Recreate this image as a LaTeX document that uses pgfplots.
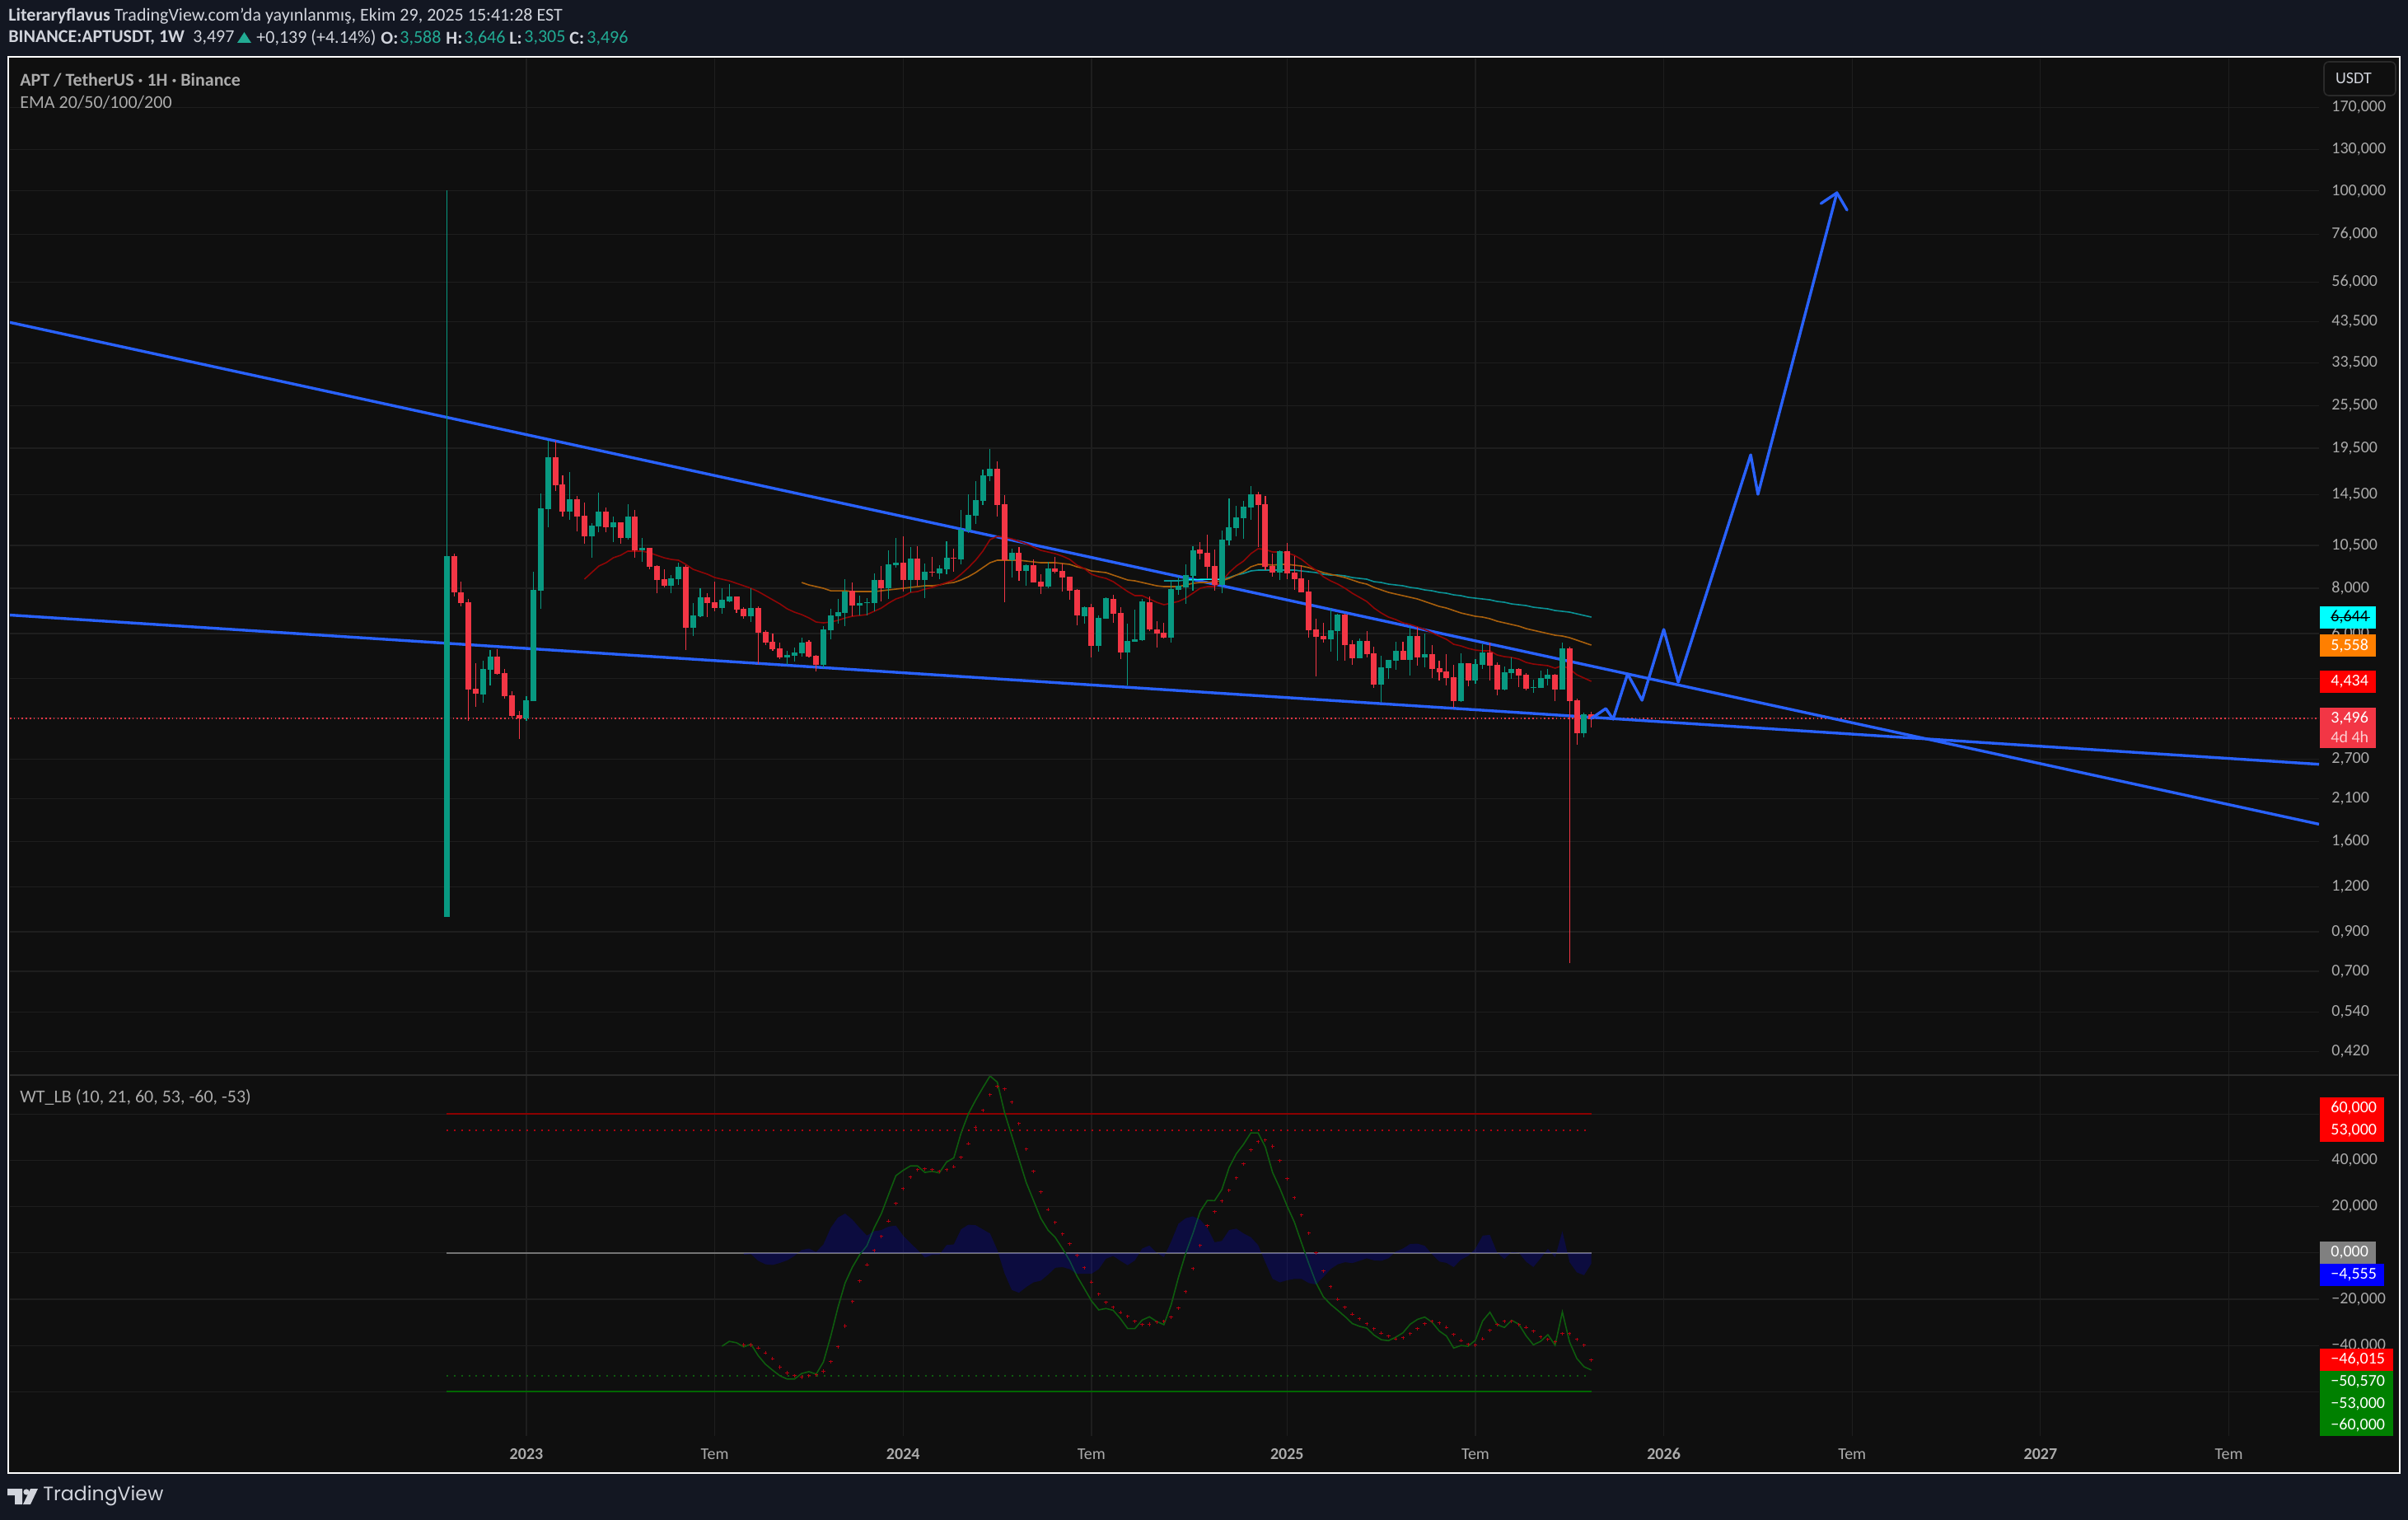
\documentclass[border=0pt]{standalone}
\usepackage{fontspec}
\setmainfont{Carlito}
\newfontfamily\logofont{Poppins}
\usepackage{pgfplots}
\usepackage{pgfplotstable}
\pgfplotsset{compat=1.18}
\definecolor{page}{HTML}{131722}
\definecolor{pane}{HTML}{0F0F0F}
\definecolor{gridc}{HTML}{1E1E1E}
\definecolor{sepc}{HTML}{2A2A2A}
\definecolor{upc}{HTML}{089981}
\definecolor{dnc}{HTML}{F23645}
\definecolor{bluel}{HTML}{2962FF}
\definecolor{emaR}{HTML}{8F0606}
\definecolor{emaO}{HTML}{A85F0C}
\definecolor{emaT}{HTML}{0A9396}
\definecolor{tickc}{HTML}{ABABAB}
\definecolor{headc}{HTML}{D1D4DC}
\definecolor{tealt}{HTML}{22AB94}
\definecolor{wtgreen}{HTML}{0E5C0E}
\definecolor{wtred}{HTML}{B00010}
\definecolor{pcyan}{HTML}{00FFFF}
\definecolor{porange}{HTML}{FF7F00}
\definecolor{pred}{HTML}{FF0000}
\definecolor{pblue}{HTML}{0000FF}
\definecolor{pgreen}{HTML}{008000}
\definecolor{pgray}{HTML}{808080}
% Price readings below are positions on the log scale
% (scale position s); pp() turns them into prices: 3.496 sits at s=872, 190.9 per e-fold.
\pgfmathdeclarefunction{pp}{1}{\pgfmathparse{3.496*exp((872-#1)/190.9)}}
\pgfplotstableread{
i hi top bot lo
0 231 675 1113 1113
5 802 812 843 853
6 789 797 813 832
11 845 850 872 875
12 694 716 851 851
13 599 617 717 739
14 535 555 618 640
17 573 606 621 631
20 635 638 651 677
21 598 621 639 646
23 627 634 640 658
25 612 627 653 655
27 653 665 668 682
31 698 702 711 720
32 683 688 703 710
34 732 747 762 772
35 714 725 748 749
38 714 728 738 745
39 709 724 730 731
42 714 738 748 755
47 790 795 798 807
48 786 792 796 803
49 774 780 793 797
52 760 764 807 811
53 739 747 765 776
54 727 743 748 757
55 703 718 744 760
57 723 732 735 747
58 726 731 732 747
59 696 704 732 742
61 668 685 714 727
62 653 683 686 689
64 664 678 704 719
66 684 694 704 726
68 686 690 696 703
69 657 677 691 697
71 619 643 679 685
72 600 625 644 647
73 584 607 626 636
74 570 577 608 613
75 545 569 578 584
78 666 671 680 701
80 685 686 693 711
83 682 690 712 714
88 736 737 748 757
90 747 750 784 791
91 725 726 751 751
94 757 778 792 832
95 740 776 779 779
96 727 730 777 778
100 706 715 774 780
101 700 711 716 722
102 685 698 713 733
103 663 668 699 717
107 644 655 710 720
108 605 640 656 662
109 614 628 641 651
110 608 615 629 654
111 590 600 616 631
115 668 669 695 704
122 738 765 776 791
123 745 746 766 802
126 775 778 799 799
129 796 810 831 852
130 801 801 811 824
131 779 790 802 813
133 760 772 801 820
135 769 794 798 810
140 793 805 851 852
142 800 806 826 830
143 782 792 807 812
146 809 816 837 838
147 798 812 817 824
150 825 834 835 841
151 814 823 835 835
152 812 819 824 832
154 780 787 837 837
157 865 867 890 895
}\upT
\pgfplotstableread{
i hi top bot lo
1 672 675 719 724
2 706 719 732 736
3 727 731 837 875
4 805 836 842 858
7 788 797 818 819
8 812 817 845 848
9 839 844 869 871
10 863 868 872 897
15 535 555 589 596
16 577 588 621 627
18 602 606 627 645
19 610 626 651 660
22 616 621 640 646
24 634 634 653 660
26 619 627 668 677
28 665 665 688 691
29 686 687 704 720
30 691 703 711 713
33 686 688 762 789
36 720 725 732 749
37 706 731 738 742
40 724 724 740 744
41 737 739 748 751
43 736 738 768 806
44 765 767 780 783
45 769 779 788 790
46 780 787 798 800
50 777 779 797 798
51 795 796 807 815
56 707 717 735 748
60 687 704 714 730
63 651 683 704 718
65 663 678 704 711
67 676 694 695 700
70 666 677 678 694
76 560 569 613 627
77 601 612 680 731
79 664 671 693 705
81 679 686 707 707
82 697 706 712 721
84 676 690 694 696
85 684 693 701 718
86 700 700 717 728
87 715 716 747 759
89 733 737 784 798
92 722 727 745 756
93 737 744 792 800
97 724 731 764 766
98 754 764 769 786
99 756 768 774 775
104 658 667 672 679
105 649 671 688 702
106 667 687 710 717
112 597 600 613 664
113 602 612 688 692
114 672 687 695 700
116 659 669 696 703
117 675 695 703 716
118 686 702 719 719
119 704 718 765 774
120 751 764 773 821
121 756 772 776 780
124 745 746 783 802
125 777 782 799 807
127 766 778 794 798
128 785 793 831 835
132 779 790 801 801
134 761 772 798 808
136 783 794 812 823
137 802 811 816 826
138 794 815 823 832
139 807 822 851 859
141 805 805 826 833
144 780 792 808 826
145 804 807 837 844
148 811 812 820 834
149 817 819 836 838
153 818 819 837 851
155 785 787 851 1169
156 848 850 890 904
158 864 867 873 883
}\dnT
\pgfplotstableread{
i s
19 703
20 695
21 687
22 683
23 677
24 674
25 669
26 669
27 669
28 671
29 674
30 677
31 679
32 680
33 685
34 691
35 694
36 697
37 701
38 703
39 705
40 708
41 711
42 714
43 718
44 723
45 728
46 733
47 739
48 743
49 746
50 750
51 755
52 756
53 755
54 753
55 750
56 748
57 747
58 746
59 742
60 738
61 732
62 727
63 724
64 719
65 718
66 715
67 713
68 710
69 707
70 704
71 697
72 689
73 680
74 669
75 655
76 651
77 652
78 654
79 657
80 660
81 664
82 668
83 670
84 672
85 675
86 679
87 686
88 690
89 697
90 700
91 702
92 706
93 712
94 718
95 723
96 723
97 727
98 731
99 734
100 732
101 730
102 726
103 720
104 714
105 712
106 712
107 706
108 695
109 687
110 681
111 672
112 666
113 667
114 670
115 670
116 671
117 674
118 679
119 686
120 692
121 700
122 705
123 709
124 714
125 720
126 725
127 730
128 738
129 744
130 749
131 752
132 756
133 758
134 761
135 764
136 768
137 772
138 776
139 782
140 784
141 787
142 789
143 790
144 790
145 795
146 797
147 798
148 800
149 804
150 806
151 807
152 808
153 811
154 808
155 812
156 819
157 823
158 827
}\emaA
\pgfplotstableread{
i s
49 707
50 710
51 712
52 714
53 717
54 717
55 717
56 718
57 718
58 718
59 718
60 717
61 716
62 715
63 714
64 713
65 712
66 711
67 711
68 710
69 708
70 707
71 704
72 700
73 695
74 689
75 683
76 680
77 680
78 680
79 680
80 681
81 682
82 683
83 683
84 683
85 684
86 685
87 688
88 690
89 693
90 694
91 695
92 698
93 701
94 704
95 705
96 707
97 709
98 711
99 712
100 712
101 712
102 710
103 708
104 707
105 707
106 706
107 705
108 702
109 698
110 694
111 688
112 685
113 685
114 686
115 685
116 685
117 686
118 687
119 689
120 692
121 695
122 697
123 699
124 701
125 704
126 707
127 709
128 713
129 716
130 719
131 721
132 723
133 725
134 727
135 730
136 733
137 736
138 738
139 741
140 744
141 746
142 748
143 749
144 751
145 754
146 756
147 758
148 760
149 763
150 765
151 767
152 769
153 771
154 772
155 774
156 777
157 780
158 783
}\emaB
\pgfplotstableread{
i s
99 705
100 705
101 705
102 704
103 704
104 703
105 703
106 703
107 703
108 701
109 698
110 696
111 693
112 692
113 692
114 692
115 692
116 692
117 692
118 693
119 694
120 695
121 697
122 698
123 698
124 699
125 701
126 702
127 703
128 706
129 707
130 709
131 710
132 711
133 713
134 714
135 716
136 717
137 719
138 720
139 722
140 723
141 725
142 726
143 727
144 728
145 730
146 731
147 733
148 734
149 735
150 737
151 738
152 739
153 741
154 742
155 743
156 745
157 747
158 749
}\emaC
\pgfplotstableread{
i s
102 703.5
107 703.5
}\emaD
\pgfplotstableread{
i s
-60.3 391.3
258.45 1000.4
}\lineU
\pgfplotstableread{
i s
-60.3 746.5
258.45 927.7
}\lineL
\pgfplotstableread{
i s
-60.3 872
258.45 872
}\lineP
\pgfplotstableread{
i s
158 872
160 860
161 873
163 818
165 850
168 764
170 828
180 552
181 600
191.9 234
}\proj
\pgfplotstableread{
i s
189.7 247
191.9 234
193.3 255
}\projH
\newcommand\fs{\fontsize{10}{12}\selectfont}
\newcommand\fh{\fontsize{11}{13}\selectfont}
\pgfplotsset{candle/.style 2 args={draw=none,mark=none,error bars/.cd,y dir=minus,y explicit,
  error mark=none,error bar style={draw=#1,line width=#2}}}
\begin{document}
\begin{tikzpicture}
\path[use as bounding box,fill=page] (0,0) rectangle (1461.5pt,-922.5pt);
\begin{scope}[x=.5pt,y=-.5pt]
\fill[pane] (10,69) rectangle (2913,1788);
\end{scope}
% ---------- price pane ----------
\begin{axis}[name=price,at={(6pt,-652.5pt)},anchor=south west,scale only axis,
  width=1401.5pt,height=617pt,
  xmin=-60.3,xmax=258.45,ymode=log,ymin=0.3619,ymax=232.2,
  axis line style={draw=none},tick style={draw=none},major tick length=0pt,
  xmajorgrids,ymajorgrids,grid style={gridc,line width=.6pt},
  xtick={11,37,63,89,116,142,168,194,220,246},xticklabels={},
  ytick={0.42,0.54,0.7,0.9,1.2,1.6,2.1,2.7,3.5,4.5,6,8,10.5,14.5,19.5,25.5,33.5,43.5,56,76,100,130,170},
  yticklabels={{0,420},{0,540},{0,700},{0,900},{1,200},{1,600},{2,100},{2,700},{},{},{6,000},{8,000},{10,500},{14,500},{19,500},{25,500},{33,500},{43,500},{56,000},{76,000},{100,000},{130,000},{170,000}},
  yticklabel pos=right,
  yticklabel style={anchor=west,inner sep=0pt,xshift=7.5pt,font=\fs,text=tickc},
  minor tick num=0,
  clip=true,
]
\addplot[dnc,line width=.6pt,dash pattern=on .8pt off 1.6pt] table[x=i,y expr=pp(\thisrow{s})]{\lineP};
\addplot[bluel,line width=1.7pt] table[x=i,y expr=pp(\thisrow{s})]{\lineU};
\addplot[bluel,line width=1.7pt] table[x=i,y expr=pp(\thisrow{s})]{\lineL};
\addplot[emaT,line width=.8pt] table[x=i,y expr=pp(\thisrow{s})]{\emaC};
\addplot[pcyan,line width=.8pt] table[x=i,y expr=pp(\thisrow{s})]{\emaD};
\addplot[emaO,line width=.8pt] table[x=i,y expr=pp(\thisrow{s})]{\emaB};
\addplot[emaR,line width=.8pt] table[x=i,y expr=pp(\thisrow{s})]{\emaA};
\addplot[candle={upc}{.55pt}]
  table[x=i,y expr=pp(\thisrow{hi}),y error minus expr=pp(\thisrow{hi})-pp(\thisrow{lo})]{\upT};
\addplot[candle={dnc}{.55pt}]
  table[x=i,y expr=pp(\thisrow{hi}),y error minus expr=pp(\thisrow{hi})-pp(\thisrow{lo})]{\dnT};
\addplot[candle={upc}{3.5pt}]
  table[x=i,y expr=pp(\thisrow{top}),y error minus expr=pp(\thisrow{top})-pp(\thisrow{bot})]{\upT};
\addplot[candle={dnc}{3.5pt}]
  table[x=i,y expr=pp(\thisrow{top}),y error minus expr=pp(\thisrow{top})-pp(\thisrow{bot})]{\dnT};
\addplot[bluel,line width=1.7pt,line join=round,line cap=round] table[x=i,y expr=pp(\thisrow{s})]{\proj};
\addplot[bluel,line width=1.7pt,line join=round,line cap=round] table[x=i,y expr=pp(\thisrow{s})]{\projH};
\end{axis}
% ---------- oscillator pane ----------
\begin{axis}[name=osc,at={(6pt,-871.5pt)},anchor=south west,scale only axis,
  width=1401.5pt,height=219pt,
  xmin=-60.3,xmax=258.45,ymin=-79.1,ymax=76.85,
  axis line style={draw=none},tick style={draw=none},major tick length=0pt,
  xmajorgrids,ymajorgrids,grid style={gridc,line width=.6pt},
  xtick={11,37,63,89,116,142,168,194,220,246},
  xticklabels={\textbf{2023},Tem,\textbf{2024},Tem,\textbf{2025},Tem,\textbf{2026},Tem,\textbf{2027},Tem},
  xticklabel style={font=\fs,text=tickc,inner sep=0pt,anchor=center,yshift=-11pt},
  ytick={-60,-40,-20,0,20,40,60},
  yticklabels={{},{−40,000},{−20,000},{},{20,000},{40,000},{}},
  yticklabel pos=right,
  yticklabel style={anchor=west,inner sep=0pt,xshift=7.5pt,font=\fs,text=tickc},
  clip=true,
]
\addplot[red!55!black,line width=1pt] coordinates {(0,60) (158,60)};
\addplot[wtred,line width=.8pt,dash pattern=on 1pt off 3.397pt] coordinates {(0,53) (158,53)};
\addplot[wtgreen,line width=.8pt,dash pattern=on 1pt off 3.397pt] coordinates {(0,-53) (158,-53)};
\addplot[green!40!black,line width=1pt] coordinates {(0,-60) (158,-60)};
\addplot[white!42!pane,line width=1.1pt] coordinates {(0,0) (158,0)};
\addplot[wtgreen,line width=.8pt] table {
38 -40.3
39 -38.2
40 -38.8
41 -40.6
42 -39.4
43 -44.4
44 -48.1
45 -50.7
46 -53.1
47 -54.5
48 -54.5
49 -52.1
50 -51.3
51 -52.4
52 -47.1
53 -36.1
54 -23.6
55 -12.9
56 -6.1
57 -0.8
58 3.1
59 10.8
60 17.0
61 25.3
62 33.4
63 35.7
64 37.6
65 37.6
66 34.8
67 35.3
68 34.6
69 39.3
70 41.1
71 51.8
72 60.1
73 66.0
74 71.4
75 76.5
76 73.8
77 60.7
78 50.6
79 40.5
80 30.4
81 22.7
82 15.0
83 9.9
84 6.7
85 1.9
86 -3.4
87 -10.0
88 -15.3
89 -20.7
90 -24.6
91 -24.0
92 -24.8
93 -28.4
94 -32.7
95 -32.7
96 -29.0
97 -27.6
98 -29.6
99 -31.0
100 -22.4
101 -10.6
102 -0.2
103 8.4
104 17.9
105 22.7
106 22.6
107 27.4
108 36.9
109 42.9
110 47.0
111 51.9
112 51.9
113 45.8
114 34.8
115 28.0
116 20.3
117 13.4
118 4.3
119 -4.6
120 -12.9
121 -18.9
122 -22.2
123 -24.8
124 -27.5
125 -30.5
126 -31.7
127 -32.5
128 -35.5
129 -37.5
130 -37.9
131 -36.4
132 -34.5
133 -30.8
134 -28.7
135 -27.7
136 -29.9
137 -33.7
138 -35.9
139 -41.1
140 -40.0
141 -40.3
142 -37.7
143 -29.4
144 -25.6
145 -31.0
146 -32.2
147 -29.1
148 -30.8
149 -35.8
150 -39.7
151 -38.2
152 -35.3
153 -39.9
154 -25.5
155 -38.5
156 -45.6
157 -49.2
158 -50.6
};
\addplot[only marks,mark=+,mark size=1.1pt,mark options={wtred,line width=.5pt}] table {
41 -39.7
42 -39.7
43 -41.1
44 -43.2
45 -45.7
46 -49.3
47 -51.8
48 -53.1
49 -53.7
50 -53.1
51 -52.7
52 -51.1
53 -47.0
54 -40.6
55 -31.5
56 -21.0
57 -12.1
58 -5.1
59 1.1
60 7.1
61 13.8
62 21.4
63 27.8
64 32.8
65 36.0
66 36.3
67 36.0
68 35.2
69 36.0
70 37.3
71 41.3
72 47.3
73 54.2
74 61.6
75 68.4
76 71.9
77 70.9
78 65.2
79 55.9
80 44.9
81 35.3
82 26.4
83 18.8
84 13.2
85 8.2
86 3.9
87 -1.1
88 -6.4
89 -12.6
90 -17.8
91 -21.4
92 -23.5
93 -25.7
94 -27.4
95 -29.6
96 -31.0
97 -30.8
98 -29.9
99 -29.6
100 -27.8
101 -23.9
102 -16.7
103 -6.8
104 3.2
105 11.8
106 17.8
107 22.4
108 27.1
109 32.4
110 38.5
111 44.5
112 48.1
113 48.8
114 46.0
115 39.9
116 32.1
117 23.9
118 16.4
119 8.6
120 0
121 -7.8
122 -14.6
123 -20.0
124 -23.5
125 -26.4
126 -28.5
127 -30.6
128 -32.8
129 -34.6
130 -36.0
131 -37.1
132 -36.7
133 -34.9
134 -32.8
135 -30.6
136 -29.6
137 -30.3
138 -32.1
139 -35.3
140 -37.8
141 -39.5
142 -39.9
143 -37.1
144 -33.5
145 -31.0
146 -29.6
147 -29.6
148 -31.0
149 -32.1
150 -33.8
151 -36.3
152 -37.4
153 -38.5
154 -34.9
155 -34.9
156 -37.4
157 -39.9
158 -46.3
};
\addplot[fill=pblue,fill opacity=.2,draw=none] table {
41 0
41 -0.8
42 -0.5
43 -3.4
44 -4.9
45 -5.2
46 -4.3
47 -3.2
48 -1.3
49 1.3
50 1.9
51 0.4
52 3.7
53 10.8
54 15.3
55 17.0
56 14.4
57 10.8
58 7.5
59 9.4
60 9.9
61 11.4
62 11.8
63 7.5
64 4.3
65 1.3
66 -2.0
67 -0.8
68 -0.8
69 3.4
70 3.7
71 10.2
72 12.2
73 12.0
74 10.2
75 8.4
76 1.3
77 -8.8
78 -16.0
79 -17.2
80 -14.7
81 -12.7
82 -12.0
83 -9.4
84 -6.4
85 -6.1
86 -7.0
87 -9.0
88 -9.0
89 -9.0
90 -7.0
91 -2.5
92 -1.3
93 -3.4
94 -5.3
95 -3.2
96 1.9
97 3.2
98 0.1
99 -1.8
100 4.9
101 12.6
102 15.0
103 15.8
104 14.4
105 10.8
106 4.6
107 5.2
108 9.9
109 10.5
110 8.4
111 6.8
112 3.4
113 -4.0
114 -11.2
115 -12.7
116 -11.8
117 -11.2
118 -11.2
119 -13.0
120 -13.6
121 -10.4
122 -7.0
123 -4.9
124 -4.0
125 -4.4
126 -3.4
127 -2.3
128 -3.2
129 -3.4
130 -2.3
131 0.6
132 1.9
133 3.9
134 4.0
135 3.1
136 -0.5
137 -3.7
138 -4.3
139 -6.1
140 -2.9
141 -1.3
142 1.9
143 7.5
144 7.8
145 0.1
146 -2.6
147 0.4
148 0.1
149 -3.8
150 -6.1
151 -2.3
152 1.8
153 -1.9
154 9.4
155 -4.0
156 -8.4
157 -9.6
158 -4.6
158 0
} -- cycle;
\end{axis}
% ---------- frame, labels, header ----------
\begin{scope}[x=.5pt,y=-.5pt]
\draw[sepc,line width=1pt] (12,1305) -- (2911,1305);
\draw[white,line width=1.1pt] (10,69) rectangle (2913,1788);
\newcommand\lab[6]{\fill[#4] (2816,#2) rectangle (#1,#3);\node[anchor=west,inner sep=0pt,text=#5,font=\fs] at (2829,{(#2+#3)/2}) {#6};}
\lab{2884}{736}{763}{pcyan}{black}{6,644}
\draw[black,line width=.5pt] (2829,749.8) -- (2877,749.8);
\lab{2884}{770}{797}{porange}{white}{5,558}
\lab{2884}{814}{841}{pred}{white}{4,434}
\fill[dnc] (2816,859) rectangle (2884,908);
\node[anchor=west,inner sep=0pt,text=white,font=\fs] at (2829,872) {3,496};
\node[anchor=west,inner sep=0pt,text=white!75!dnc,font=\fs] at (2829,895) {4d 4h};
\lab{2894}{1332}{1359}{pred}{white}{60,000}
\lab{2894}{1359}{1386}{pred}{white}{53,000}
\lab{2884}{1507}{1534}{pgray}{white}{0,000}
\lab{2894}{1534}{1561}{pblue}{white}{−4,555}
\lab{2905}{1637}{1664}{pred}{white}{−46,015}
\lab{2905}{1664}{1691}{pgreen}{white}{−50,570}
\lab{2905}{1691}{1717}{pgreen}{white}{−53,000}
\lab{2905}{1717}{1743}{pgreen}{white}{−60,000}
\draw[sepc,line width=.8pt,rounded corners=3pt,fill=pane] (2821,75) rectangle (2908,116);
\node[text=headc,font=\fs] at (2857,95) {USDT};
\node[anchor=west,inner sep=0pt,text=headc,font=\fh] at (10,20) {\textbf{Literaryflavus} TradingView.com'da yayınlanmış, Ekim 29, 2025 15:41:28 EST};
\node[anchor=west,inner sep=0pt,text=headc,font=\fh] at (10,46) {\textbf{BINANCE:APTUSDT, 1W}};
\node[anchor=west,inner sep=0pt,text=headc,font=\fh] at (234,46) {3,497};
\fill[tealt] (288,52) -- (305,52) -- (296.5,39) -- cycle;
\node[anchor=west,inner sep=0pt,text=headc,font=\fh] at (311,46) {+0,139 (+4.14\%)};
\node[anchor=west,inner sep=0pt,text=headc,font=\fh] at (462,46) {\textbf{O:}};
\node[anchor=west,inner sep=0pt,text=tealt,font=\fh] at (485,46) {3,588};
\node[anchor=west,inner sep=0pt,text=headc,font=\fh] at (541,46) {\textbf{H:}};
\node[anchor=west,inner sep=0pt,text=tealt,font=\fh] at (563,46) {3,646};
\node[anchor=west,inner sep=0pt,text=headc,font=\fh] at (618,46) {\textbf{L:}};
\node[anchor=west,inner sep=0pt,text=tealt,font=\fh] at (636,46) {3,305};
\node[anchor=west,inner sep=0pt,text=headc,font=\fh] at (691,46) {\textbf{C:}};
\node[anchor=west,inner sep=0pt,text=tealt,font=\fh] at (712,46) {3,496};
\node[anchor=west,inner sep=0pt,text=tickc,font=\fh] at (24,97) {\textbf{APT / TetherUS · 1H · Binance}};
\node[anchor=west,inner sep=0pt,text=tickc,font=\fh] at (24,124) {EMA 20/50/100/200};
\node[anchor=west,inner sep=0pt,text=tickc,font=\fh] at (24,1332) {WT\_LB (10, 21, 60, 53, -60, -53)};
\fill[headc] (9,1807) -- (27,1807) -- (27,1826) -- (18,1826) -- (18,1815) -- (9,1815) -- cycle;
\fill[headc] (32,1811) circle (3.6);
\fill[headc] (37,1807) -- (46,1807) -- (37,1826) -- (28,1826) -- cycle;
\node[anchor=west,inner sep=0pt,text=headc,font=\logofont\fontsize{11.8}{14}\selectfont] at (52,1816) {TradingView};
\end{scope}
\end{tikzpicture}
\end{document}
